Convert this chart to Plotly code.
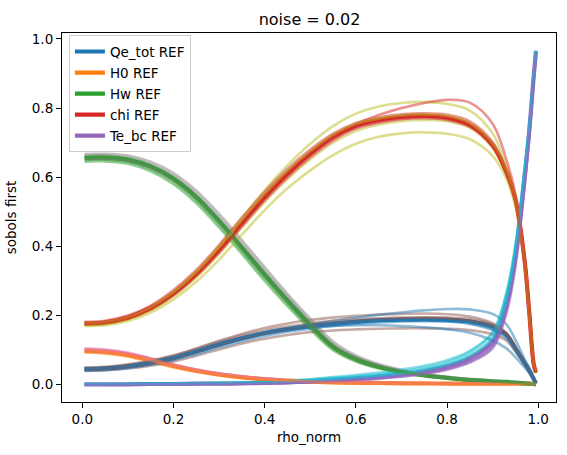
import plotly.graph_objects as go

# ---------------- data ----------------
rho_norm = [0.005, 0.05, 0.1, 0.15, 0.2, 0.25, 0.3, 0.35, 0.4, 0.45, 0.5, 0.55, 0.6,
            0.65, 0.7, 0.75, 0.8, 0.85, 0.9, 0.93, 0.95, 0.97, 0.98, 0.99, 0.995]

param_names = ["Qe_tot", "H0", "Hw", "chi", "Te_bc"]

qe_tot_ref = [0.045, 0.047, 0.053, 0.063, 0.077, 0.096, 0.116, 0.134, 0.149, 0.160, 0.169, 0.176, 0.182,
              0.186, 0.188, 0.189, 0.188, 0.183, 0.168, 0.145, 0.105, 0.063, 0.042, 0.017, 0.004]
h0_ref = [0.099, 0.096, 0.087, 0.072, 0.055, 0.041, 0.030, 0.022, 0.016, 0.012, 0.009, 0.007, 0.006,
          0.005, 0.004, 0.004, 0.003, 0.003, 0.003, 0.003, 0.003, 0.003, 0.003, 0.002, 0.002]
hw_ref = [0.655, 0.656, 0.650, 0.630, 0.595, 0.542, 0.473, 0.396, 0.318, 0.243, 0.173, 0.110, 0.074,
          0.052, 0.037, 0.027, 0.020, 0.014, 0.010, 0.008, 0.006, 0.004, 0.003, 0.002, 0.001]
chi_ref = [0.177, 0.180, 0.194, 0.222, 0.265, 0.322, 0.392, 0.470, 0.545, 0.612, 0.670, 0.718, 0.750,
           0.766, 0.775, 0.778, 0.773, 0.752, 0.693, 0.615, 0.535, 0.360, 0.215, 0.060, 0.035]
te_bc_ref = [0.001, 0.001, 0.001, 0.002, 0.002, 0.003, 0.003, 0.004, 0.005, 0.007, 0.010, 0.014, 0.018,
             0.023, 0.030, 0.039, 0.053, 0.077, 0.125, 0.235, 0.375, 0.600, 0.730, 0.890, 0.965]

# noisy samples (noise = 0.02), one list per sample
qe_tot_samples = [
    [0.048, 0.050, 0.057, 0.068, 0.084, 0.105, 0.127, 0.147, 0.164, 0.177, 0.187, 0.194, 0.199,
     0.203, 0.205, 0.206, 0.204, 0.197, 0.178, 0.150, 0.110, 0.066, 0.044, 0.018, 0.004],
    [0.043, 0.045, 0.051, 0.061, 0.075, 0.094, 0.114, 0.133, 0.149, 0.163, 0.175, 0.185, 0.194,
     0.202, 0.209, 0.215, 0.219, 0.218, 0.205, 0.175, 0.130, 0.075, 0.050, 0.020, 0.004],
    [0.041, 0.042, 0.047, 0.055, 0.067, 0.084, 0.102, 0.119, 0.133, 0.144, 0.152, 0.157, 0.160,
     0.162, 0.163, 0.163, 0.162, 0.158, 0.146, 0.128, 0.096, 0.058, 0.040, 0.016, 0.004],
    [0.046, 0.048, 0.054, 0.065, 0.080, 0.099, 0.119, 0.136, 0.150, 0.159, 0.166, 0.170, 0.172,
     0.172, 0.170, 0.166, 0.160, 0.150, 0.128, 0.105, 0.080, 0.050, 0.034, 0.014, 0.003],
    [0.050, 0.052, 0.059, 0.070, 0.085, 0.104, 0.124, 0.142, 0.157, 0.168, 0.177, 0.184, 0.189,
     0.192, 0.194, 0.194, 0.192, 0.185, 0.166, 0.141, 0.103, 0.061, 0.041, 0.016, 0.004],
    [0.040, 0.042, 0.048, 0.058, 0.071, 0.089, 0.108, 0.126, 0.141, 0.153, 0.162, 0.170, 0.176,
     0.180, 0.183, 0.184, 0.183, 0.178, 0.162, 0.140, 0.105, 0.064, 0.043, 0.017, 0.004],
    [0.044, 0.046, 0.052, 0.062, 0.076, 0.095, 0.115, 0.133, 0.148, 0.160, 0.170, 0.178, 0.184,
     0.189, 0.192, 0.194, 0.194, 0.190, 0.174, 0.148, 0.108, 0.065, 0.043, 0.017, 0.004],
    [0.047, 0.049, 0.055, 0.066, 0.080, 0.099, 0.119, 0.137, 0.152, 0.163, 0.172, 0.179, 0.184,
     0.187, 0.188, 0.187, 0.184, 0.176, 0.158, 0.134, 0.098, 0.060, 0.040, 0.016, 0.004],
]
h0_samples = [
    [0.105, 0.102, 0.093, 0.077, 0.059, 0.044, 0.033, 0.024, 0.018, 0.013, 0.010, 0.008, 0.006,
     0.005, 0.005, 0.004, 0.004, 0.003, 0.003, 0.003, 0.003, 0.003, 0.003, 0.002, 0.002],
    [0.093, 0.090, 0.081, 0.066, 0.050, 0.037, 0.027, 0.019, 0.014, 0.010, 0.008, 0.006, 0.005,
     0.004, 0.004, 0.003, 0.003, 0.003, 0.003, 0.003, 0.003, 0.003, 0.003, 0.002, 0.002],
    [0.101, 0.098, 0.090, 0.075, 0.058, 0.044, 0.033, 0.024, 0.018, 0.013, 0.010, 0.008, 0.006,
     0.005, 0.005, 0.004, 0.004, 0.003, 0.003, 0.003, 0.003, 0.003, 0.003, 0.002, 0.002],
    [0.097, 0.094, 0.084, 0.068, 0.052, 0.038, 0.028, 0.020, 0.015, 0.011, 0.008, 0.006, 0.005,
     0.004, 0.004, 0.003, 0.003, 0.003, 0.003, 0.003, 0.003, 0.003, 0.003, 0.002, 0.002],
    [0.103, 0.100, 0.091, 0.075, 0.057, 0.042, 0.031, 0.023, 0.017, 0.012, 0.009, 0.007, 0.006,
     0.005, 0.004, 0.004, 0.003, 0.003, 0.003, 0.003, 0.003, 0.003, 0.003, 0.002, 0.002],
    [0.095, 0.092, 0.084, 0.069, 0.053, 0.039, 0.029, 0.021, 0.015, 0.011, 0.008, 0.006, 0.005,
     0.004, 0.004, 0.003, 0.003, 0.003, 0.003, 0.003, 0.003, 0.003, 0.003, 0.002, 0.002],
    [0.098, 0.095, 0.086, 0.071, 0.054, 0.040, 0.030, 0.022, 0.016, 0.012, 0.009, 0.007, 0.005,
     0.005, 0.004, 0.004, 0.003, 0.003, 0.003, 0.003, 0.003, 0.003, 0.003, 0.002, 0.002],
    [0.100, 0.097, 0.088, 0.073, 0.056, 0.042, 0.031, 0.022, 0.016, 0.012, 0.009, 0.007, 0.006,
     0.005, 0.004, 0.004, 0.003, 0.003, 0.003, 0.003, 0.003, 0.003, 0.003, 0.002, 0.002],
]
hw_samples = [
    [0.667, 0.668, 0.663, 0.645, 0.612, 0.561, 0.494, 0.418, 0.340, 0.263, 0.191, 0.125, 0.085,
     0.060, 0.043, 0.031, 0.023, 0.016, 0.011, 0.009, 0.007, 0.005, 0.003, 0.002, 0.001],
    [0.645, 0.646, 0.639, 0.617, 0.580, 0.525, 0.455, 0.378, 0.300, 0.227, 0.160, 0.100, 0.067,
     0.047, 0.034, 0.025, 0.018, 0.013, 0.009, 0.007, 0.005, 0.004, 0.003, 0.002, 0.001],
    [0.662, 0.663, 0.657, 0.638, 0.604, 0.552, 0.484, 0.408, 0.330, 0.254, 0.183, 0.118, 0.080,
     0.056, 0.040, 0.029, 0.021, 0.015, 0.011, 0.008, 0.006, 0.004, 0.003, 0.002, 0.001],
    [0.650, 0.651, 0.644, 0.623, 0.587, 0.533, 0.463, 0.386, 0.308, 0.234, 0.166, 0.105, 0.070,
     0.049, 0.035, 0.026, 0.019, 0.013, 0.009, 0.007, 0.005, 0.004, 0.003, 0.002, 0.001],
    [0.658, 0.659, 0.653, 0.634, 0.600, 0.547, 0.478, 0.402, 0.324, 0.249, 0.178, 0.114, 0.077,
     0.054, 0.038, 0.028, 0.020, 0.014, 0.010, 0.008, 0.006, 0.004, 0.003, 0.002, 0.001],
    [0.657, 0.658, 0.652, 0.632, 0.597, 0.544, 0.475, 0.398, 0.320, 0.245, 0.175, 0.111, 0.075,
     0.053, 0.037, 0.027, 0.020, 0.014, 0.010, 0.008, 0.006, 0.004, 0.003, 0.002, 0.001],
    [0.652, 0.653, 0.647, 0.627, 0.592, 0.539, 0.470, 0.394, 0.316, 0.241, 0.171, 0.108, 0.072,
     0.051, 0.036, 0.026, 0.019, 0.014, 0.010, 0.007, 0.005, 0.004, 0.003, 0.002, 0.001],
    [0.660, 0.661, 0.655, 0.635, 0.599, 0.546, 0.476, 0.399, 0.321, 0.246, 0.175, 0.112, 0.075,
     0.053, 0.038, 0.028, 0.020, 0.014, 0.010, 0.008, 0.006, 0.004, 0.003, 0.002, 0.001],
]
chi_samples = [
    [0.172, 0.175, 0.190, 0.220, 0.266, 0.326, 0.400, 0.482, 0.562, 0.634, 0.697, 0.748, 0.784,
     0.805, 0.815, 0.818, 0.812, 0.793, 0.727, 0.632, 0.542, 0.362, 0.216, 0.060, 0.035],
    [0.180, 0.183, 0.197, 0.225, 0.267, 0.322, 0.390, 0.466, 0.541, 0.608, 0.666, 0.715, 0.753,
     0.780, 0.800, 0.815, 0.824, 0.816, 0.755, 0.652, 0.552, 0.370, 0.220, 0.062, 0.035],
    [0.170, 0.172, 0.184, 0.209, 0.247, 0.298, 0.362, 0.434, 0.505, 0.568, 0.620, 0.664, 0.697,
     0.717, 0.727, 0.730, 0.726, 0.710, 0.662, 0.596, 0.515, 0.350, 0.210, 0.058, 0.035],
    [0.182, 0.185, 0.200, 0.229, 0.274, 0.332, 0.404, 0.483, 0.558, 0.624, 0.680, 0.726, 0.757,
     0.773, 0.782, 0.785, 0.781, 0.762, 0.702, 0.622, 0.538, 0.362, 0.217, 0.060, 0.035],
    [0.174, 0.176, 0.189, 0.215, 0.256, 0.311, 0.379, 0.455, 0.529, 0.595, 0.652, 0.700, 0.734,
     0.752, 0.762, 0.766, 0.762, 0.743, 0.686, 0.610, 0.530, 0.357, 0.213, 0.059, 0.035],
    [0.176, 0.179, 0.192, 0.219, 0.261, 0.317, 0.386, 0.463, 0.538, 0.605, 0.663, 0.711, 0.744,
     0.761, 0.770, 0.774, 0.769, 0.749, 0.690, 0.612, 0.532, 0.360, 0.214, 0.060, 0.035],
    [0.178, 0.181, 0.195, 0.224, 0.268, 0.326, 0.397, 0.476, 0.551, 0.618, 0.675, 0.722, 0.754,
     0.770, 0.779, 0.782, 0.777, 0.756, 0.697, 0.618, 0.536, 0.361, 0.215, 0.060, 0.035],
    [0.175, 0.178, 0.191, 0.218, 0.259, 0.314, 0.382, 0.458, 0.533, 0.600, 0.658, 0.707, 0.741,
     0.758, 0.768, 0.771, 0.766, 0.746, 0.688, 0.611, 0.531, 0.358, 0.214, 0.059, 0.035],
]
te_bc_samples = [
    [0.002, 0.002, 0.002, 0.003, 0.003, 0.004, 0.005, 0.006, 0.008, 0.011, 0.015, 0.020, 0.025,
     0.031, 0.039, 0.050, 0.066, 0.094, 0.150, 0.265, 0.405, 0.625, 0.745, 0.895, 0.967],
    [0.000, 0.000, 0.001, 0.001, 0.002, 0.002, 0.003, 0.003, 0.004, 0.005, 0.007, 0.010, 0.013,
     0.017, 0.023, 0.031, 0.043, 0.064, 0.105, 0.205, 0.340, 0.570, 0.710, 0.880, 0.960],
    [0.001, 0.001, 0.001, 0.002, 0.002, 0.003, 0.004, 0.005, 0.007, 0.009, 0.012, 0.017, 0.022,
     0.027, 0.035, 0.045, 0.060, 0.086, 0.138, 0.250, 0.390, 0.612, 0.738, 0.892, 0.965],
    [0.001, 0.001, 0.001, 0.002, 0.002, 0.002, 0.003, 0.004, 0.005, 0.006, 0.009, 0.012, 0.016,
     0.020, 0.027, 0.035, 0.048, 0.070, 0.115, 0.220, 0.360, 0.585, 0.720, 0.885, 0.962],
    [0.003, 0.003, 0.003, 0.004, 0.004, 0.005, 0.006, 0.007, 0.009, 0.012, 0.016, 0.022, 0.028,
     0.035, 0.044, 0.055, 0.071, 0.098, 0.152, 0.262, 0.400, 0.620, 0.742, 0.894, 0.966],
    [0.001, 0.001, 0.001, 0.001, 0.002, 0.002, 0.003, 0.004, 0.005, 0.006, 0.008, 0.011, 0.015,
     0.019, 0.025, 0.033, 0.046, 0.068, 0.112, 0.215, 0.355, 0.580, 0.718, 0.884, 0.962],
    [0.001, 0.001, 0.002, 0.002, 0.003, 0.003, 0.004, 0.005, 0.006, 0.008, 0.011, 0.015, 0.020,
     0.025, 0.032, 0.042, 0.057, 0.082, 0.132, 0.242, 0.382, 0.606, 0.734, 0.891, 0.964],
    [0.000, 0.000, 0.000, 0.001, 0.001, 0.002, 0.002, 0.003, 0.004, 0.005, 0.007, 0.010, 0.014,
     0.018, 0.024, 0.032, 0.045, 0.066, 0.108, 0.210, 0.348, 0.575, 0.714, 0.882, 0.961],
]

x_ticks = [0.0, 0.2, 0.4, 0.6, 0.8, 1.0]
y_ticks = [0.0, 0.2, 0.4, 0.6, 0.8, 1.0]
title_text = "noise = 0.02"

# ---------------- styling ----------------
tab10 = ["#1f77b4", "#ff7f0e", "#2ca02c", "#d62728", "#9467bd",
         "#8c564b", "#e377c2", "#7f7f7f", "#bcbd22", "#17becf"]


def rgba(hexc, a):
    h = hexc.lstrip("#")
    return "rgba(%d,%d,%d,%.2f)" % (int(h[0:2], 16), int(h[2:4], 16), int(h[4:6], 16), a)


refs = [qe_tot_ref, h0_ref, hw_ref, chi_ref, te_bc_ref]
samples = [qe_tot_samples, h0_samples, hw_samples, chi_samples, te_bc_samples]
FONT = "DejaVu Sans"

fig = go.Figure()

# reference curves (thick, in the legend)
for i, (name, ref) in enumerate(zip(param_names, refs)):
    fig.add_trace(go.Scatter(
        x=rho_norm, y=ref, mode="lines", name=name + " REF",
        legendgroup=name,
        line=dict(color=tab10[i], width=4.2, shape="spline", smoothing=1.0),
    ))

# noisy samples: colour cycle continues, so samples alternate between C5+i and Ci
n_samples = len(qe_tot_samples)
for k in range(n_samples):
    for i in range(len(param_names)):
        col = tab10[i + 5] if k % 2 == 0 else tab10[i]
        fig.add_trace(go.Scatter(
            x=rho_norm, y=samples[i][k], mode="lines", showlegend=False,
            hoverinfo="skip",
            line=dict(color=rgba(col, 0.5), width=2.6, shape="spline", smoothing=1.0),
        ))

axis_common = dict(
    showgrid=False, zeroline=False, showline=True, mirror=True,
    linecolor="black", linewidth=1.1,
    ticks="outside", ticklen=5, tickwidth=1.1, tickcolor="black",
    tickfont=dict(family=FONT, size=13.5, color="black"),
    title_font=dict(family=FONT, size=13.5, color="black"),
)

fig.update_layout(
    width=567, height=455,
    margin=dict(l=61, r=10, t=33, b=53),
    paper_bgcolor="white", plot_bgcolor="white",
    font=dict(family=FONT, color="black"),
    title=dict(text=title_text, x=0.546, xanchor="center", y=0.958, yanchor="middle",
               yref="container", font=dict(family=FONT, size=16, color="black")),
    xaxis=dict(range=[-0.0446, 1.039], tickvals=x_ticks, ticktext=["%.1f" % v for v in x_ticks],
               title=dict(text="rho_norm", standoff=6), **axis_common),
    yaxis=dict(range=[-0.05, 1.0173], tickvals=y_ticks, ticktext=["%.1f" % v for v in y_ticks],
               title=dict(text="sobols first", standoff=12), **axis_common),
    legend=dict(x=0.014, y=0.994, xanchor="left", yanchor="top",
                bgcolor="rgba(255,255,255,0.8)", bordercolor="#cccccc", borderwidth=1,
                font=dict(family=FONT, size=13.5, color="black"),
                tracegroupgap=0.5, itemwidth=30),
    showlegend=True,
)

# remove the browser's default 8px page margin so the figure sits at the window origin
fig.write_html("out.html", config={"displayModeBar": False},
               post_script="document.body.style.margin='0';")
